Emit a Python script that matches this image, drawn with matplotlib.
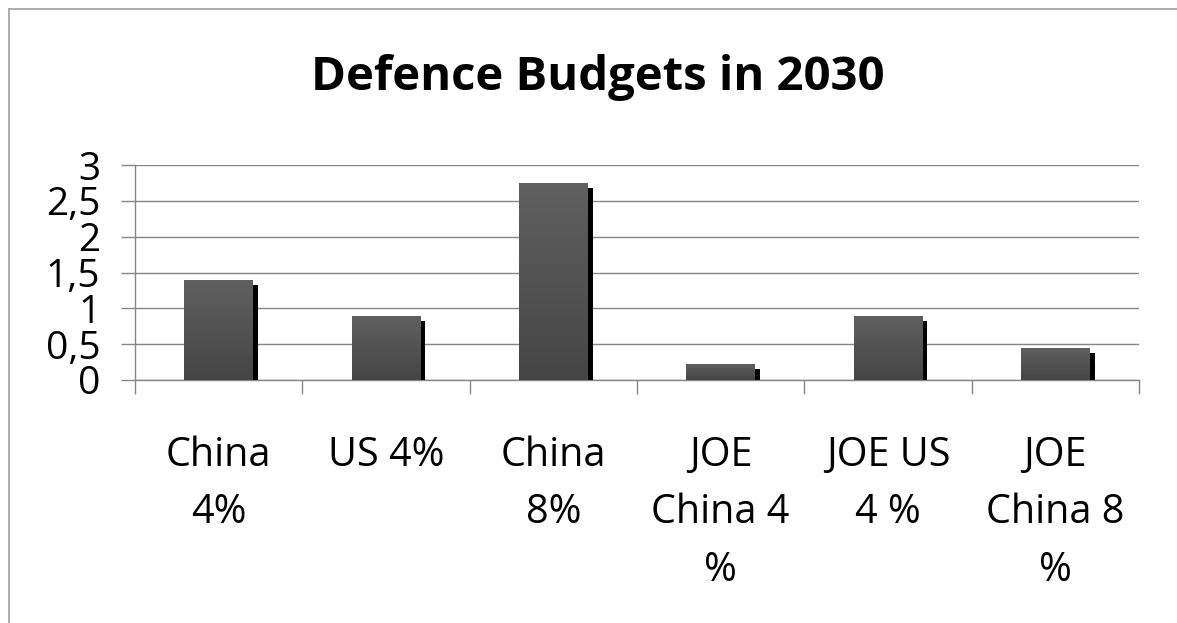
import numpy as np
import matplotlib
matplotlib.use("Agg")
import matplotlib.pyplot as plt
import matplotlib.patheffects as pe
from matplotlib.lines import Line2D
from matplotlib.ticker import FuncFormatter, FixedLocator
from matplotlib.colors import LinearSegmentedColormap

# data
categories = ["China\n4%", "US 4%", "China\n8%", "JOE\nChina 4\n%", "JOE US\n4 %", "JOE\nChina 8\n%"]
budgets = [1.4, 0.9, 2.75, 0.22, 0.9, 0.45]
y_ticks = [0, 0.5, 1, 1.5, 2, 2.5, 3]

plt.rcParams['font.family'] = ['Open Sans', 'DejaVu Sans']

fig = plt.figure(figsize=(11.77, 6.23), dpi=100)
ax = fig.add_axes([135/1177, 1-380/623, (1139-135)/1177, (380-165)/623])

x = np.arange(len(budgets))
shadow = [pe.SimplePatchShadow(offset=(3.6, -3.6), shadow_rgbFace='black', alpha=1.0), pe.Normal()]
bars = ax.bar(x, budgets, width=0.41, color='#555555', zorder=3, path_effects=shadow)

# vertical gradient inside each bar
grad_cmap = LinearSegmentedColormap.from_list('g', ['#454545', '#606060'])
grad = np.linspace(0, 1, 256).reshape(-1, 1)
for b in bars:
    im = ax.imshow(grad, extent=[b.get_x(), b.get_x() + b.get_width(), 0, b.get_height()],
                   origin='lower', aspect='auto', cmap=grad_cmap, zorder=4)
    im.set_clip_path(b)

ax.set_xlim(-0.5, len(budgets) - 0.5)
ax.set_ylim(0, 3)

# y axis
ax.set_yticks(y_ticks)
ax.yaxis.set_major_formatter(FuncFormatter(lambda v, p: ('%g' % v).replace('.', ',')))
ax.tick_params(axis='y', length=10, width=1, color='#868686', pad=15, labelsize=28)
ax.grid(axis='y', color='#868686', linewidth=1)
ax.set_axisbelow(True)

# x axis: labels at centres, ticks at category boundaries
ax.set_xticks(x)
ax.set_xticklabels(categories, linespacing=1.55)
ax.tick_params(axis='x', which='major', length=0, pad=40, labelsize=28.5)
ax.xaxis.set_minor_locator(FixedLocator(np.arange(-0.5, len(budgets), 1.0)))
ax.tick_params(axis='x', which='minor', length=10, width=1, color='#868686')

for s in ['top', 'right']:
    ax.spines[s].set_visible(False)
for s in ['left', 'bottom']:
    ax.spines[s].set_color('#868686')
    ax.spines[s].set_linewidth(1)

fig.text(598/1177, 1-90/623, "Defence Budgets in 2030", ha='center', va='baseline',
         fontsize=34, fontweight='bold')

# chart area border (only left and top visible in the crop)
fig.add_artist(Line2D([8.5/1177, 8.5/1177], [0, 1-8.5/623], transform=fig.transFigure, color='#a0a0a0', lw=1.2))
fig.add_artist(Line2D([8.5/1177, 1], [1-8.5/623, 1-8.5/623], transform=fig.transFigure, color='#a0a0a0', lw=1.2))

fig.savefig("out.png", dpi=100, facecolor='white')
